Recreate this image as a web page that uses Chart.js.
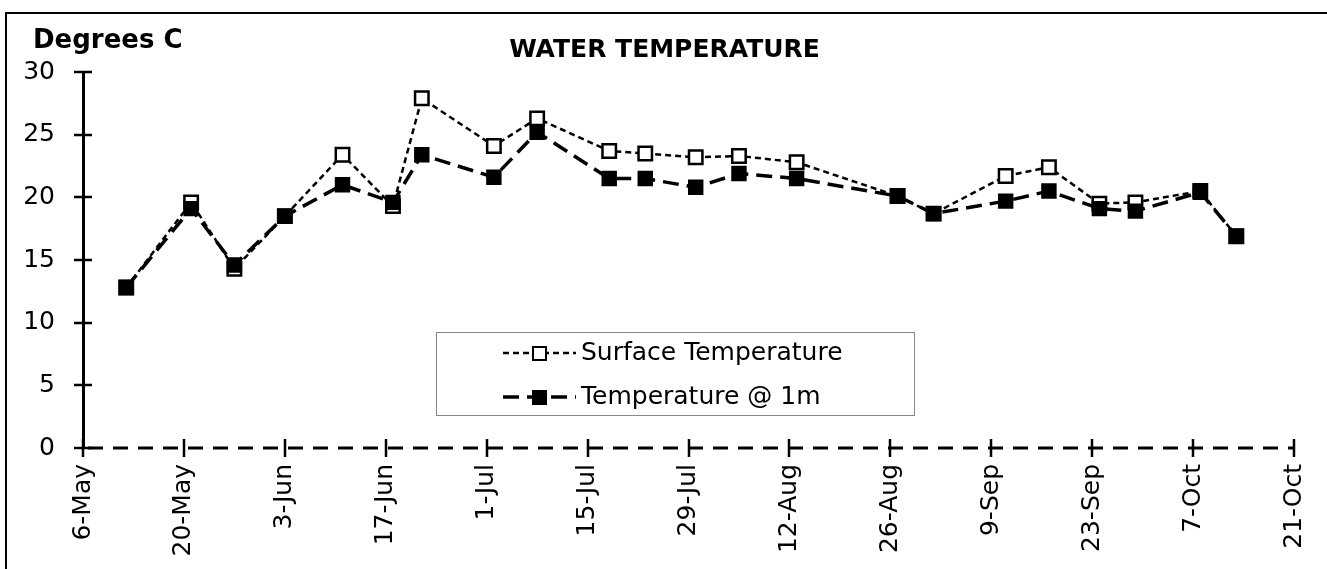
<!DOCTYPE html>
<html>
<head>
<meta charset="utf-8">
<title>Water Temperature</title>
<script src="https://cdn.jsdelivr.net/npm/chart.js@4.4.1/dist/chart.umd.min.js"></script>
<style>
  html, body { margin: 0; padding: 0; background: #fff; overflow: hidden; }
  #wrap { position: relative; width: 1327px; height: 569px; }
  #frame { position: absolute; left: 5px; top: 12px; width: 1340px; height: 580px; border: 2px solid #000; box-sizing: border-box; }
  #chart { position: absolute; left: 0; top: 0; }
</style>
</head>
<body>
<div id="wrap">
  <div id="frame"></div>
  <canvas id="chart" width="1327" height="569"></canvas>
</div>
<script>
// sample dates and readings (degrees C)
const sampleDates = ['12-May', '21-May', '27-May', '3-Jun', '11-Jun', '18-Jun', '22-Jun', '2-Jul', '8-Jul', '18-Jul', '23-Jul',
    '30-Jul', '5-Aug', '13-Aug', '27-Aug', '1-Sep', '11-Sep', '17-Sep', '24-Sep', '29-Sep', '8-Oct', '13-Oct'];
const surfaceTemp = [12.8, 19.6, 14.3, 18.5, 23.4, 19.3, 27.9, 24.1, 26.3, 23.7, 23.5,
    23.2, 23.3, 22.8, 20.1, 18.7, 21.7, 22.4, 19.5, 19.6, 20.5, 16.9];
const temp1m = [12.8, 19.1, 14.6, 18.5, 21.0, 19.6, 23.4, 21.6, 25.2, 21.5, 21.5,
    20.8, 21.9, 21.5, 20.1, 18.7, 19.7, 20.5, 19.1, 18.9, 20.4, 16.9];

// axis tick labels
const dateTicks = ['6-May', '20-May', '3-Jun', '17-Jun', '1-Jul', '15-Jul', '29-Jul', '12-Aug', '26-Aug', '9-Sep', '23-Sep', '7-Oct', '21-Oct'];
const tempTicks = [0, 5, 10, 15, 20, 25, 30];

const MONTHS = ['Jan', 'Feb', 'Mar', 'Apr', 'May', 'Jun', 'Jul', 'Aug', 'Sep', 'Oct', 'Nov', 'Dec'];

// "12-May" -> day number
function toDay(label) {
    const parts = label.split('-');
    return Date.UTC(2001, MONTHS.indexOf(parts[1]), Number(parts[0])) / 86400000;
}

const tickLabelByDay = new Map(dateTicks.map(l => [toDay(l), l]));
const tickFont = { family: 'DejaVu Sans', size: 25 };

// cross ticks on both axes + dashed x axis line
const axisMarks = {
    id: 'axisMarks',
    afterDraw(chart) {
        const { ctx, chartArea, scales } = chart;
        ctx.save();
        ctx.strokeStyle = '#000';
        ctx.lineWidth = 3;

        // dashed x axis
        ctx.setLineDash([15, 10]);
        ctx.lineDashOffset = 20;
        ctx.beginPath();
        ctx.moveTo(chartArea.left, chartArea.bottom);
        ctx.lineTo(chartArea.right, chartArea.bottom);
        ctx.stroke();
        ctx.setLineDash([]);

        ctx.lineWidth = 2.5;
        ctx.beginPath();
        scales.x.ticks.forEach(t => {
            const x = Math.round(scales.x.getPixelForValue(t.value));
            ctx.moveTo(x, chartArea.bottom - 9);
            ctx.lineTo(x, chartArea.bottom + 9);
        });
        scales.y.ticks.forEach(t => {
            const y = Math.round(scales.y.getPixelForValue(t.value));
            ctx.moveTo(chartArea.left - 9, y);
            ctx.lineTo(chartArea.left + 9, y);
        });
        ctx.stroke();
        ctx.restore();
    }
};

// title, unit label and the boxed legend inside the plot
const chartNotes = {
    id: 'chartNotes',
    afterDraw(chart) {
        const ctx = chart.ctx;
        ctx.save();
        ctx.fillStyle = '#000';
        ctx.textBaseline = 'alphabetic';

        ctx.font = 'bold 25px "DejaVu Sans"';
        ctx.textAlign = 'center';
        ctx.fillText('WATER TEMPERATURE', 664.5, 57);

        ctx.font = 'bold 26px "DejaVu Sans"';
        ctx.textAlign = 'left';
        ctx.fillText('Degrees C', 33, 48);

        // legend box
        const box = { left: 436, top: 332, width: 478, height: 83 };
        ctx.fillStyle = '#fff';
        ctx.fillRect(box.left, box.top, box.width, box.height);
        ctx.strokeStyle = '#888';
        ctx.lineWidth = 1;
        ctx.strokeRect(box.left + 0.5, box.top + 0.5, box.width, box.height);

        const rows = [353, 397];
        chart.data.datasets.forEach((ds, i) => {
            const y = rows[i];
            ctx.strokeStyle = '#000';
            ctx.lineWidth = ds.borderWidth;
            ctx.setLineDash(ds.borderDash);
            ctx.beginPath();
            ctx.moveTo(503, y);
            ctx.lineTo(576, y);
            ctx.stroke();
            ctx.setLineDash([]);

            ctx.fillStyle = ds.pointBackgroundColor;
            ctx.lineWidth = 2;
            ctx.fillRect(533, y - 6, 13, 13);
            ctx.strokeRect(533, y - 6, 13, 13);

            ctx.fillStyle = '#000';
            ctx.font = '25px "DejaVu Sans"';
            ctx.textBaseline = 'middle';
            ctx.fillText(ds.label, 581, y);
        });
        ctx.restore();
    }
};

const chart = new Chart(document.getElementById('chart'), {
    type: 'line',
    data: {
        datasets: [
            {
                label: 'Surface Temperature',
                data: sampleDates.map((d, i) => ({ x: toDay(d), y: surfaceTemp[i] })),
                borderColor: '#000',
                borderWidth: 2.5,
                borderDash: [6, 4],
                pointStyle: 'rect',
                pointRadius: 9.5,
                pointBackgroundColor: '#fff',
                pointBorderColor: '#000',
                pointBorderWidth: 2.5,
                tension: 0,
                order: 1
            },
            {
                label: 'Temperature @ 1m',
                data: sampleDates.map((d, i) => ({ x: toDay(d), y: temp1m[i] })),
                borderColor: '#000',
                borderWidth: 3.5,
                borderDash: [16, 8],
                pointStyle: 'rect',
                pointRadius: 9.5,
                pointBackgroundColor: '#000',
                pointBorderColor: '#000',
                pointBorderWidth: 2,
                tension: 0,
                order: 0
            }
        ]
    },
    options: {
        responsive: false,
        animation: false,
        layout: { padding: { left: 0, right: 33, top: 72, bottom: 0 } },
        plugins: {
            legend: { display: false },
            tooltip: { enabled: false },
            title: { display: false }
        },
        scales: {
            x: {
                type: 'linear',
                min: toDay(dateTicks[0]),
                max: toDay(dateTicks[dateTicks.length - 1]),
                afterBuildTicks: scale => { scale.ticks = dateTicks.map(l => ({ value: toDay(l) })); },
                afterFit: scale => {
                    scale.height = 121;
                    scale.paddingLeft = 0;
                    scale.paddingRight = 0;
                },
                grid: { display: false, drawTicks: false },
                border: { display: false },
                ticks: {
                    autoSkip: false,
                    minRotation: 90,
                    maxRotation: 90,
                    padding: 16,
                    color: '#000',
                    font: tickFont,
                    callback: value => tickLabelByDay.get(value) || ''
                }
            },
            y: {
                min: tempTicks[0],
                max: tempTicks[tempTicks.length - 1],
                afterBuildTicks: scale => { scale.ticks = tempTicks.map(v => ({ value: v })); },
                afterFit: scale => {
                    scale.width = 83;
                    scale.paddingTop = 0;
                    scale.paddingBottom = 0;
                },
                grid: { display: false, drawTicks: false },
                border: { display: true, color: '#000', width: 3 },
                ticks: { padding: 28, color: '#000', font: tickFont }
            }
        }
    },
    plugins: [axisMarks, chartNotes]
});
</script>
</body>
</html>
